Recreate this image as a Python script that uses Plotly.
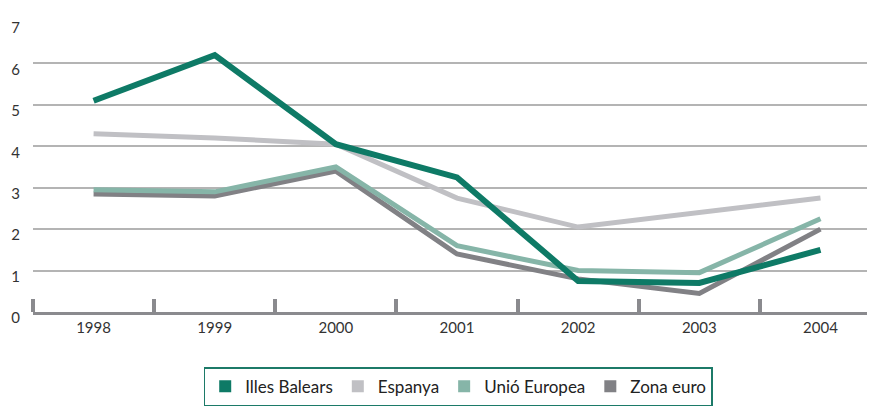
import plotly.graph_objects as go

years = ["1998", "1999", "2000", "2001", "2002", "2003", "2004"]
illes_balears = [5.1, 6.2, 4.05, 3.25, 0.75, 0.7, 1.5]
espanya = [4.3, 4.2, 4.05, 2.75, 2.05, 2.4, 2.75]
unio_europea = [2.95, 2.9, 3.5, 1.6, 1.0, 0.95, 2.25]
zona_euro = [2.85, 2.8, 3.4, 1.4, 0.8, 0.45, 2.0]
y_ticks = [0, 1, 2, 3, 4, 5, 6, 7]

series = [
    ("Espanya", espanya, "#c0c0c4", 5),
    ("Zona euro", zona_euro, "#818185", 5),
    ("Unió Europea", unio_europea, "#86b5a8", 5),
    ("Illes Balears", illes_balears, "#0e7a66", 6),
]
legend_order = ["Illes Balears", "Espanya", "Unió Europea", "Zona euro"]

xs = list(range(len(years)))
fig = go.Figure()
for name, vals, color, w in series:
    fig.add_trace(go.Scatter(x=xs, y=vals, mode="lines", name=name,
                             line=dict(color=color, width=w), showlegend=False,
                             hoverinfo="skip"))
colors = {n: c for n, _, c, _ in series}
for name in legend_order:
    fig.add_trace(go.Scatter(x=[None], y=[None], mode="markers", name=name,
                             marker=dict(symbol="square", size=12, color=colors[name])))

fig.update_layout(
    width=867, height=400,
    margin=dict(l=25, r=0, t=14, b=96, autoexpand=False),
    paper_bgcolor="white", plot_bgcolor="white",
    font=dict(family="Lato, sans-serif", size=15, color="#333333"),
    legend=dict(orientation="h", x=0.505, xanchor="center", y=-0.19, yanchor="top",
                bordercolor="#1c7a68", borderwidth=1.5, font=dict(size=17, color="#222222"),
                itemwidth=30, traceorder="normal"),
    xaxis=dict(range=[-0.5, 6.45], tickvals=xs, ticktext=years, ticks="",
               showgrid=False, zeroline=False, showline=True, linecolor="#8a8a8e",
               linewidth=3, automargin=False,
               minor=dict(tickvals=[i - 0.5 for i in xs], ticks="inside", ticklen=13,
                          tickwidth=4, tickcolor="#8a8a8e", showgrid=False),
               tickfont=dict(size=15, color="#333333")),
    yaxis=dict(range=[0, 7], tickvals=y_ticks, showgrid=True, gridcolor="#b4b4b4",
               gridwidth=1.5, zeroline=False, showline=False, ticks="",
               ticklabelstandoff=12, ticklabelshift=6, automargin=False,
               tickfont=dict(size=15, color="#333333")),
)

fig.write_html("out.html")
